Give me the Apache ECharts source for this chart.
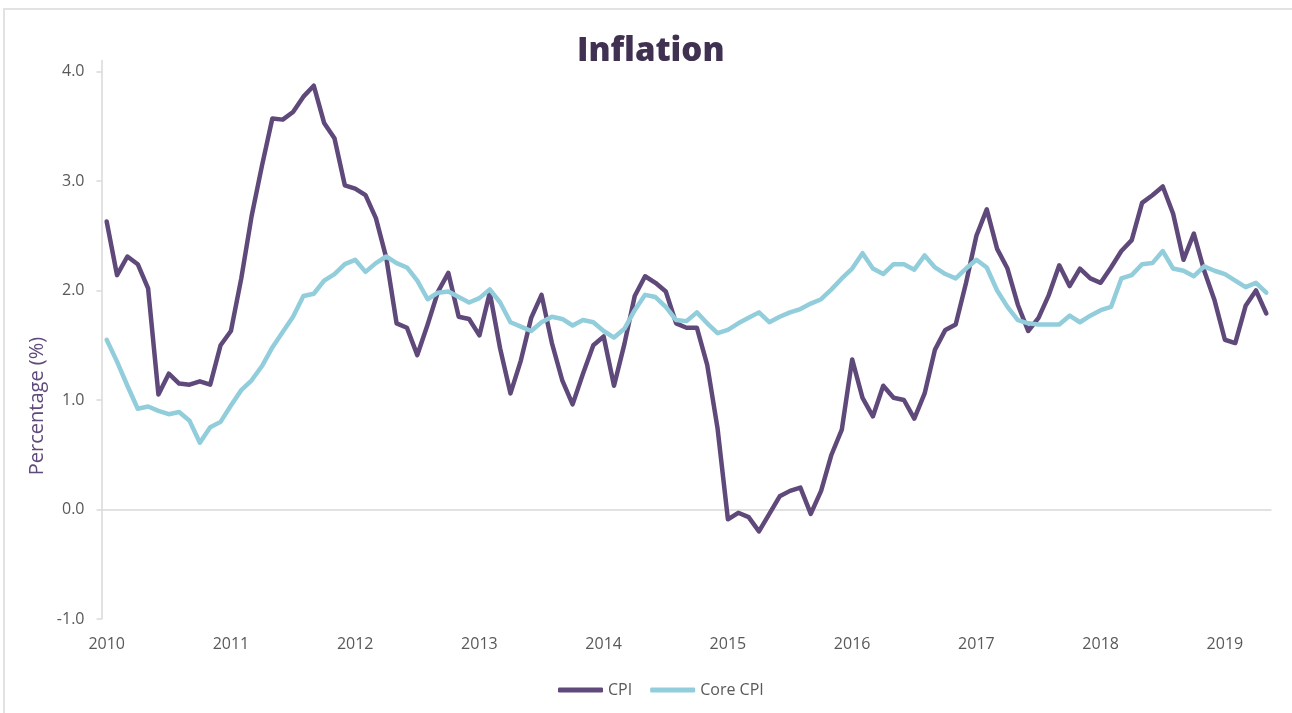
<!DOCTYPE html>
<html>
<head>
<meta charset="utf-8">
<title>Inflation</title>
<script src="https://cdn.jsdelivr.net/npm/echarts@6/dist/echarts.min.js"></script>
<style>
    html, body { margin: 0; padding: 0; background: #fff; }
    .frame {
        position: absolute; left: 3px; top: 8px;
        width: 1300px; height: 720px;
        border: 2px solid #e2e2e2;
    }
    #chart { position: absolute; left: 0; top: 0; width: 1292px; height: 713px; }
</style>
</head>
<body>
<div class="frame"></div>
<div id="chart"></div>
<script>
    // year labels on the x axis, one per January
    const years = [2010, 2011, 2012, 2013, 2014, 2015, 2016, 2017, 2018, 2019]
    const months = ['Jan', 'Feb', 'Mar', 'Apr', 'May', 'Jun', 'Jul', 'Aug', 'Sep', 'Oct', 'Nov', 'Dec']
    const yTicks = [-1, 0, 1, 2, 3, 4]

    // CPI, % y/y, Jan 2010 - May 2019 (one row per year)
    const cpi = [
        2.63, 2.14, 2.31, 2.24, 2.02, 1.05, 1.24, 1.15, 1.14, 1.17, 1.14, 1.50,
        1.63, 2.11, 2.68, 3.14, 3.57, 3.56, 3.63, 3.77, 3.87, 3.53, 3.39, 2.96,
        2.93, 2.87, 2.66, 2.30, 1.70, 1.66, 1.41, 1.69, 1.99, 2.16, 1.76, 1.74,
        1.59, 1.98, 1.47, 1.06, 1.36, 1.75, 1.96, 1.52, 1.18, 0.96, 1.24, 1.50,
        1.58, 1.13, 1.51, 1.95, 2.13, 2.07, 1.99, 1.70, 1.66, 1.66, 1.32, 0.74,
        -0.09, -0.03, -0.07, -0.20, -0.04, 0.12, 0.17, 0.20, -0.04, 0.17, 0.50, 0.73,
        1.37, 1.02, 0.85, 1.13, 1.02, 1.00, 0.83, 1.06, 1.46, 1.64, 1.69, 2.07,
        2.50, 2.74, 2.38, 2.20, 1.87, 1.63, 1.75, 1.96, 2.23, 2.04, 2.20, 2.11,
        2.07, 2.21, 2.36, 2.46, 2.80, 2.87, 2.95, 2.70, 2.28, 2.52, 2.18, 1.91,
        1.55, 1.52, 1.86, 2.00, 1.79
    ]

    // Core CPI, % y/y
    const coreCpi = [
        1.55, 1.35, 1.13, 0.92, 0.94, 0.90, 0.87, 0.89, 0.81, 0.61, 0.75, 0.80,
        0.95, 1.09, 1.18, 1.31, 1.48, 1.62, 1.76, 1.95, 1.97, 2.09, 2.15, 2.24,
        2.28, 2.17, 2.25, 2.31, 2.25, 2.21, 2.09, 1.92, 1.98, 1.99, 1.94, 1.89,
        1.93, 2.01, 1.89, 1.71, 1.67, 1.63, 1.71, 1.76, 1.74, 1.68, 1.73, 1.71,
        1.63, 1.57, 1.65, 1.82, 1.96, 1.94, 1.85, 1.73, 1.72, 1.80, 1.70, 1.61,
        1.64, 1.70, 1.75, 1.80, 1.71, 1.76, 1.80, 1.83, 1.88, 1.92, 2.01, 2.11,
        2.20, 2.34, 2.20, 2.15, 2.24, 2.24, 2.19, 2.32, 2.21, 2.15, 2.11, 2.20,
        2.28, 2.21, 2.00, 1.85, 1.73, 1.70, 1.69, 1.69, 1.69, 1.77, 1.71, 1.77,
        1.82, 1.85, 2.11, 2.14, 2.24, 2.25, 2.36, 2.20, 2.18, 2.13, 2.22, 2.18,
        2.15, 2.09, 2.03, 2.07, 1.98
    ]

    const categories = []
    years.forEach(function (y) {
        months.forEach(function (m) {
            if (categories.length < cpi.length) categories.push(m + ' ' + y)
        })
    })

    const labelGrey = '#595959'
    const axisGrey = '#d9d9d9'
    const font = '"Open Sans", "Noto Sans", sans-serif'

    const myChart = echarts.init(document.getElementById('chart'))
    const options = {
        animation: false,
        title: {
            text: 'Inflation',
            left: 572,
            top: 30,
            textStyle: {
                color: '#403152',
                fontFamily: font,
                fontWeight: 800,
                fontSize: 33
            }
        },
        legend: {
            data: ['CPI', 'Core CPI'],
            left: 553,
            top: 677,
            icon: 'roundRect',
            itemWidth: 45,
            itemHeight: 5,
            itemGap: 18,
            textStyle: { color: labelGrey, fontFamily: font, fontSize: 16 }
        },
        grid: {
            left: 101.5,
            right: 20.5,
            top: 60.5,
            bottom: 94,
            containLabel: false
        },
        graphic: [{
            type: 'text',
            x: 37,
            y: 406,
            rotation: Math.PI / 2,
            style: {
                text: 'Percentage (%)',
                fill: '#604a7b',
                font: '20px "Open Sans", sans-serif',
                align: 'center',
                verticalAlign: 'middle'
            }
        }],
        xAxis: {
            type: 'category',
            boundaryGap: true,
            data: categories,
            axisLine: { show: false, onZero: false },
            axisTick: { show: false },
            axisLabel: {
                interval: function (index) { return index % 12 === 0 },
                formatter: function (v) { return v.split(' ')[1] },
                margin: 17,
                color: labelGrey,
                fontFamily: font,
                fontSize: 16
            }
        },
        yAxis: {
            type: 'value',
            min: -1,
            max: 4.1,
            interval: 1,
            axisLine: { show: true, lineStyle: { color: axisGrey, width: 1.5 } },
            axisTick: {
                show: true,
                length: 5,
                customValues: yTicks,
                lineStyle: { color: axisGrey, width: 1.5 }
            },
            axisLabel: {
                customValues: yTicks,
                formatter: function (v) { return v.toFixed(1) },
                margin: 17,
                color: labelGrey,
                fontFamily: font,
                fontSize: 16
            },
            splitLine: { show: false }
        },
        series: [
            {
                name: 'CPI',
                type: 'line',
                data: cpi,
                symbol: 'none',
                lineStyle: { width: 4.5, color: '#5f497a', join: 'round', cap: 'round' },
                itemStyle: { color: '#5f497a' },
                markLine: {
                    silent: true,
                    symbol: 'none',
                    label: { show: false },
                    lineStyle: { color: axisGrey, width: 1.5, type: 'solid' },
                    data: [{ yAxis: 0 }],
                    z: 1
                },
                z: 3
            },
            {
                name: 'Core CPI',
                type: 'line',
                data: coreCpi,
                symbol: 'none',
                lineStyle: { width: 4.5, color: '#92cddc', join: 'round', cap: 'round' },
                itemStyle: { color: '#92cddc' },
                z: 4
            }
        ]
    }
    myChart.setOption(options)
    window.addEventListener('resize', myChart.resize)
</script>
</body>
</html>
